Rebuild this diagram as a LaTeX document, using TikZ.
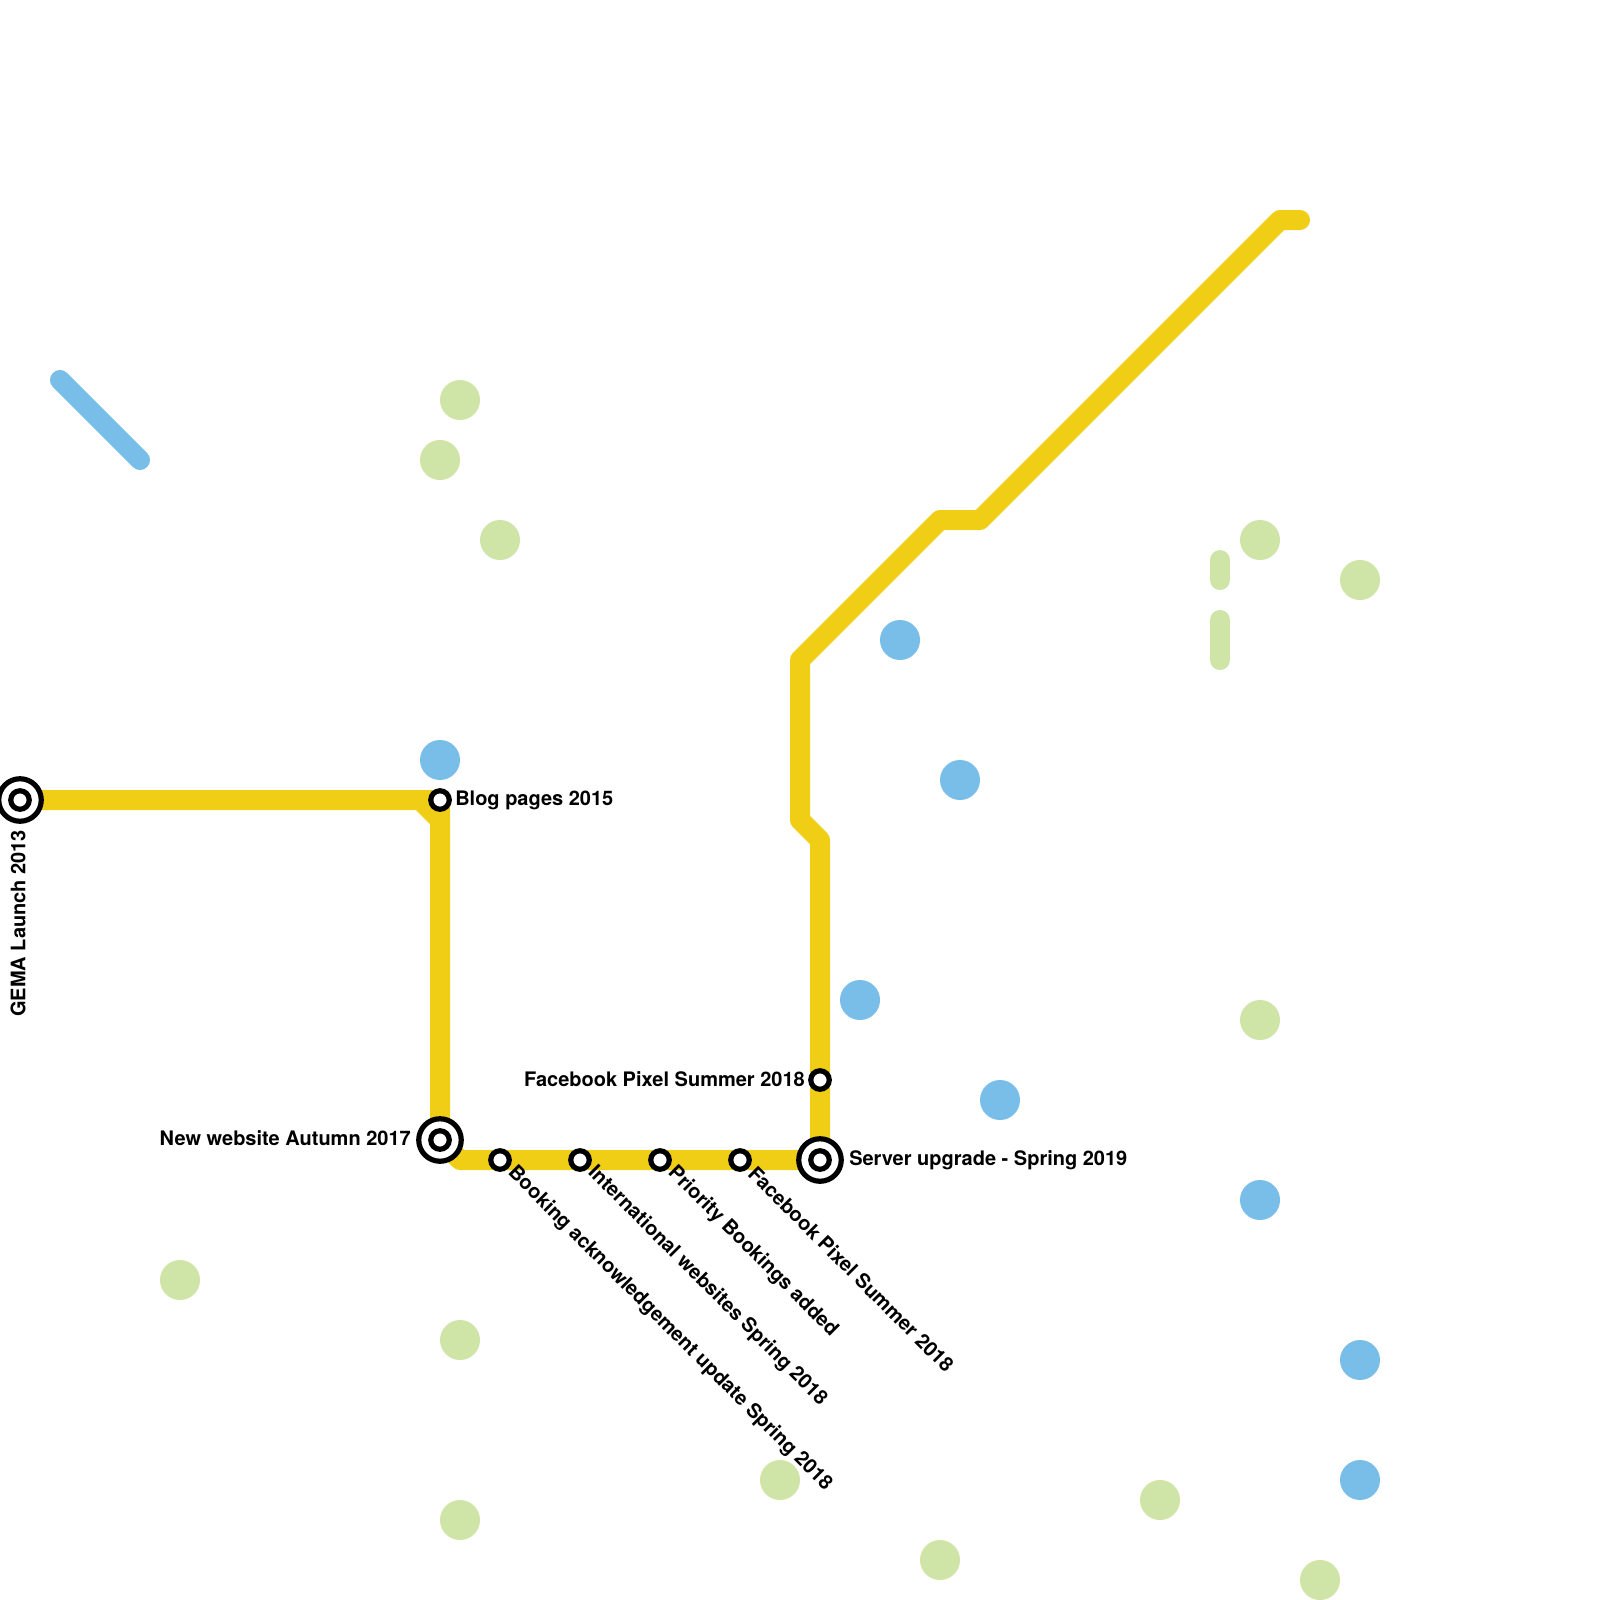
\documentclass[tikz,border=0pt]{standalone}
\usepackage{fontspec}
\setmainfont{TeX Gyre Heros}
\usetikzlibrary{positioning, backgrounds}
\definecolor{lineyellow}{HTML}{F0CE15}
\definecolor{lineblue}{HTML}{79BDE9}
\definecolor{linegreen}{HTML}{CFE4A7}

\begin{document}
\begin{tikzpicture}[
      x=1pt, y=-1pt,
      node distance=6pt,
      station/.style={circle, draw=black, line width=5.2pt, fill=white, minimum size=18.5pt, inner sep=0pt, outer sep=0pt},
      terminus/.style={circle, draw=black, line width=5.2pt, fill=white, minimum size=42.5pt, inner sep=0pt, outer sep=0pt},
      bluedot/.style={circle, fill=lineblue, minimum size=40pt, inner sep=0pt, outer sep=0pt},
      greendot/.style={circle, fill=linegreen, minimum size=40pt, inner sep=0pt, outer sep=0pt},
      metro/.style={line width=20pt, line cap=round, line join=round},
      caption/.style={font=\bfseries\fontsize{20}{22}\selectfont, inner sep=0pt, outer sep=0pt}
    ]
    \useasboundingbox (0,0) rectangle (1600,1600);

    \node [terminus] (gemaring) at (20,800) {};
    \node [station] (gema) at (20,800) {};
    \node [station] (blog) at (440,800) {};
    \node [terminus] (autumnring) at (440,1140) {};
    \node [station] (autumn) at (440,1140) {};
    \node [station] (booking) at (500,1160) {};
    \node [station] (international) at (580,1160) {};
    \node [station] (priority) at (660,1160) {};
    \node [station] (pixela) at (740,1160) {};
    \node [terminus] (serverring) at (820,1160) {};
    \node [station] (server) at (820,1160) {};
    \node [station] (pixelb) at (820,1080) {};

    \coordinate (bend1) at (420,800);
    \coordinate (bend2) at (440,820);
    \coordinate (bend3) at (460,1160);
    \coordinate (bend4) at (820,840);
    \coordinate (bend5) at (800,820);
    \coordinate (bend6) at (800,660);
    \coordinate (bend7) at (940,520);
    \coordinate (bend8) at (980,520);
    \coordinate (bend9) at (1280,220);
    \coordinate (yellowend) at (1300,220);
    \coordinate (bluestart) at (60,380);
    \coordinate (blueend) at (140,460);
    \coordinate (shorttop) at (1220,560);
    \coordinate (shortbottom) at (1220,580);
    \coordinate (longtop) at (1220,620);
    \coordinate (longbottom) at (1220,660);

    \begin{scope}[on background layer]
      \draw [metro, lineyellow] (gema.center) -- (blog.center) -- (bend2) -- (autumn.center) -- (bend3) -- (server.center) -- (bend4) -- (bend5) -- (bend6) -- (bend7) -- (bend8) -- (bend9) -- (yellowend);
      \draw [metro, lineyellow, line cap=butt] (bend1) -- (bend2);
    \end{scope}
    \draw [metro, lineblue] (bluestart) -- (blueend);
    \draw [metro, linegreen] (shorttop) -- (shortbottom);
    \draw [metro, linegreen] (longtop) -- (longbottom);

    \node [bluedot] (blue1) at (440,760) {};
    \node [bluedot] (blue2) at (900,640) {};
    \node [bluedot] (blue3) at (960,780) {};
    \node [bluedot] (blue4) at (860,1000) {};
    \node [bluedot] (blue5) at (1000,1100) {};
    \node [bluedot] (blue6) at (1260,1200) {};
    \node [bluedot] (blue7) at (1360,1360) {};
    \node [bluedot] (blue8) at (1360,1480) {};

    \node [greendot] (green1) at (460,400) {};
    \node [greendot] (green2) at (440,460) {};
    \node [greendot] (green3) at (500,540) {};
    \node [greendot] (green4) at (1260,540) {};
    \node [greendot] (green5) at (1360,580) {};
    \node [greendot] (green6) at (1260,1020) {};
    \node [greendot] (green7) at (180,1280) {};
    \node [greendot] (green8) at (460,1340) {};
    \node [greendot] (green9) at (460,1520) {};
    \node [greendot] (green10) at (780,1480) {};
    \node [greendot] (green11) at (940,1560) {};
    \node [greendot] (green12) at (1160,1500) {};
    \node [greendot] (green13) at (1320,1580) {};

    \node [caption, rotate=90, anchor=east] (gemalabel) at (18,830) {GEMA Launch 2013};
    \node [caption, right=of blog] (bloglabel) {Blog pages 2015};
    \node [caption, left=8pt of autumnring, yshift=2pt] (autumnlabel) {New website Autumn 2017};
    \node [caption, left=of pixelb, yshift=1pt] (pixelblabel) {Facebook Pixel Summer 2018};
    \node [caption, right=8pt of serverring] (serverlabel) {Server upgrade - Spring 2019};
    \node [caption, rotate=-45, anchor=west] (bookinglabel) at (511,1170) {Booking acknowledgement update Spring 2018};
    \node [caption, rotate=-45, anchor=west] (internationallabel) at (591,1170) {International websites Spring 2018};
    \node [caption, rotate=-45, anchor=west] (prioritylabel) at (671,1170) {Priority Bookings added};
    \node [caption, rotate=-45, anchor=west] (pixelalabel) at (752,1170) {Facebook Pixel Summer 2018};
  \end{tikzpicture}
\end{document}
